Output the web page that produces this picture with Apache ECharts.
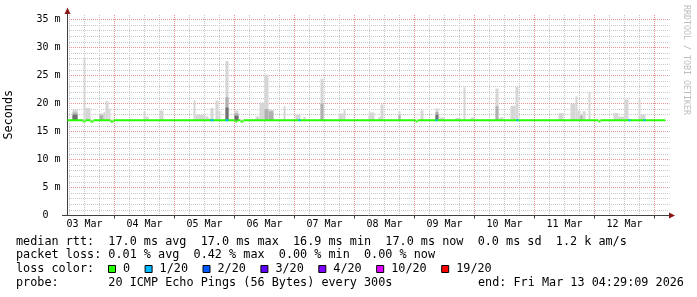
<!DOCTYPE html>
<html>
<head>
<meta charset="utf-8">
<script src="https://cdn.jsdelivr.net/npm/echarts/dist/echarts.min.js"></script>
<style>
html,body{margin:0;padding:0;background:#fff;}
#chart{width:697px;height:297px;}
</style>
</head>
<body>
<div id="chart"></div>
<script>
// ---------------- DATA (hours since 03 Mar 00:00) ----------------
const dayLabels = ['03 Mar','04 Mar','05 Mar','06 Mar','07 Mar','08 Mar','09 Mar','10 Mar','11 Mar','12 Mar'];
const dayLabelHours = [12,36,60,84,108,132,156,180,204,228];
const dayBoundaryHours = [24,48,72,96,120,144,168,192,216,240];
const yTickValues = [0,5,10,15,20,25,30,35];
const yTickLabels = ['0\u00a0\u00a0','5 m','10 m','15 m','20 m','25 m','30 m','35 m'];

const timeStart = 5.2;     // left edge of graph
const timeEnd = 246;       // right edge of graph
const rttStart = 5.2;      // first measurement
const rttEnd = 244.3;      // last measurement
const medianBase = 17.0;   // median rtt (ms)

// median dips (ms)
const dipFrom  = [11.6, 14.4, 22.4, 72.4, 74.4, 144.4, 217.6];
const dipTo    = [12.4, 15.6, 23.6, 73.2, 75.6, 145.2, 218.4];
const dipValue = [16.8, 16.8, 16.8, 16.8, 16.8, 16.8, 16.8];

// 1/20 packet loss intervals
const lossFrom = [62.4, 68.4, 97.6, 152.4, 184.8, 229.6, 235.6];
const lossTo   = [63.6, 69.6, 98.4, 153.2, 185.6, 230.4, 236.4];

// smoke (ping spread) per interval, ms
const smokeFloor = 16.9;
const smokeFrom = [7.2,11.6,12.4,18.0,19.6,20.4,21.6,35.6,36.4,42.0,55.6,56.4,60.4,61.6,62.4,64.4,65.6,68.4,72.0,80.4,82.0,84.0,85.6,91.6,96.4,99.6,106.4,113.6,115.6,125.6,129.6,130.4,137.6,146.4,152.4,153.6,154.4,160.4,163.6,166.4,176.4,178.0,182.4,184.4,201.6,206.4,208.4,209.2,210.4,211.2,213.6,223.6,225.6,228.0,233.6,234.4];
const smokeTo   = [9.2,12.4,14.4,19.6,20.4,21.6,22.4,36.4,37.6,43.6,56.4,60.4,61.6,62.4,63.6,65.6,66.4,69.6,73.6,82.0,84.0,85.6,87.6,92.4,98.4,100.4,107.6,115.6,116.4,128.0,130.4,131.6,138.4,147.6,153.6,154.4,156.0,162.4,164.4,168.0,177.6,179.6,184.4,185.6,203.6,208.4,209.2,210.4,211.2,212.4,214.4,225.6,228.0,229.6,234.4,236.4];
const smokeMax  = [18.9,28.2,19.2,18.2,18.5,20.4,19.1,18.6,17.7,18.75,20.6,18.0,17.7,17.3,19.2,20.5,18.6,27.6,18.75,17.7,20.2,25.2,18.9,19.5,18.0,17.6,24.4,18.2,18.9,18.4,17.6,19.8,18.6,18.75,19.1,17.7,17.5,17.4,22.9,17.5,22.7,17.5,19.6,23.0,18.3,20.0,21.3,18.75,17.9,18.6,22.1,18.3,17.7,20.7,20.7,18.0];
const smokeMid  = [18.4,null,null,17.9,null,null,null,null,null,null,null,null,null,null,null,null,null,21.1,18.2,null,null,19.0,18.6,null,null,null,20.0,null,null,null,null,null,18.0,null,18.5,null,null,null,null,null,19.5,null,null,null,null,null,null,null,17.9,null,null,null,null,null,null,null];
const smokeDark = [18.0,null,null,null,null,null,null,null,null,null,null,null,null,null,null,null,null,19.3,17.8,null,null,null,null,null,null,null,null,null,null,null,null,null,null,null,18.0,null,null,null,null,null,null,null,null,null,null,null,null,null,null,null,null,null,null,null,null,null];

const lossLabels = ['0','1/20','2/20','3/20','4/20','10/20','19/20'];
const lossColors = ['#26ff00','#00b8ff','#0059ff','#5e00ff','#7e00ff','#dd00ff','#ff0000'];

const legendLines = [
  'median rtt:  17.0 ms avg  17.0 ms max  16.9 ms min  17.0 ms now  0.0 ms sd  1.2 k am/s',
  'packet loss: 0.01 % avg  0.42 % max  0.00 % min  0.00 % now',
  'loss color:',
  'probe:       20 ICMP Echo Pings (56 Bytes) every 300s'
];
const endText = 'end: Fri Mar 13 04:29:09 2026';
const yTitle = 'Seconds';
const sideText = 'RRDTOOL / TOBI OETIKER';

// ---------------- BUILD ----------------
const MONO = '"DejaVu Sans Mono", monospace';
const GRID = {left:67.5, top:13.9, width:602, height:201.6, containLabel:false, outerBoundsMode:'none'};

const smokeData = smokeFrom.map((f,i)=>[f, smokeTo[i], smokeMax[i], smokeMid[i], smokeDark[i]]);

// median rtt segments [from, to, value]
const medianSegs = [];
let segStart = rttStart;
dipFrom.forEach((f,i)=>{
  medianSegs.push([segStart, f, medianBase]);
  medianSegs.push([f, dipTo[i], dipValue[i]]);
  segStart = dipTo[i];
});
medianSegs.push([segStart, rttEnd, medianBase]);
// loss segments [from, to, value]
const lossSegs = lossFrom.map((f,i)=>[f, lossTo[i], medianBase]);

// grid lines
const minorV = [], majorV = [];
for (let h = 6; h < timeEnd; h += 6) { (h % 24 === 0 ? majorV : minorV).push(h); }
const minorH = [], majorH = [];
for (let v = 1; v <= 35; v++) { (v % 5 === 0 ? majorH : minorH).push(v); }

const minorStyle = {color:'#c8c8c8', type:[1,1], dashOffset:0.5, width:1};
const majorStyle = {color:'#e98e8e', type:[1,1], dashOffset:0.5, width:1};
const gridLines = []
  .concat(minorV.map(h=>({xAxis:h, lineStyle:minorStyle})))
  .concat(minorH.map(v=>({yAxis:v, lineStyle:minorStyle})))
  .concat(majorV.map(h=>({xAxis:h, lineStyle:majorStyle})))
  .concat(majorH.map(v=>({yAxis:v, lineStyle:majorStyle})));

function renderSmoke(params, api) {
  const from = api.value(0), to = api.value(1);
  const x0 = api.coord([from, smokeFloor])[0];
  const x1 = api.coord([to, smokeFloor])[0];
  const yb = api.coord([from, smokeFloor])[1];
  const children = [];
  const layer = (top, color) => {
    if (top == null || isNaN(top)) return;
    const yt = api.coord([from, top])[1];
    children.push({type:'rect', shape:{x:x0, y:yt, width:x1-x0, height:yb-yt}, style:{fill:color}});
  };
  layer(api.value(2), '#d6d6d6');
  layer(api.value(3), '#b0b0b0');
  layer(api.value(4), '#707070');
  return {type:'group', children};
}
function segRenderer(color) {
  return function (params, api) {
    const p0 = api.coord([api.value(0), api.value(2)]);
    const p1 = api.coord([api.value(1), api.value(2)]);
    return {type:'rect', shape:{x:p0[0], y:p0[1] - 1, width:p1[0] - p0[0], height:2}, style:{fill:color}};
  };
}

// legend graphics
const graphics = [];
const lineY = [241.5, 255.2, 269.2, 282.8];
legendLines.forEach((t,i)=>{
  graphics.push({type:'text', x:16, y:lineY[i], silent:true,
    style:{text:t, font:'11.8px ' + MONO, fill:'#000', textVerticalAlign:'middle', verticalAlign:'middle'}});
});
graphics.push({type:'text', x:478, y:lineY[3], silent:true,
  style:{text:endText, font:'11.8px ' + MONO, fill:'#000', textVerticalAlign:'middle', verticalAlign:'middle'}});
let cx = 108.5;
const CH = 7.1;
lossLabels.forEach((lab,i)=>{
  graphics.push({type:'rect', silent:true, shape:{x:cx, y:265.5, width:7, height:7},
    style:{fill:lossColors[i], stroke:'#000', lineWidth:1}});
  const tx = cx + 14.5;
  graphics.push({type:'text', x:tx, y:lineY[2], silent:true,
    style:{text:lab, font:'11.8px ' + MONO, fill:'#000', textVerticalAlign:'middle', verticalAlign:'middle'}});
  cx = tx + lab.length*CH + 15;
});
// side text
graphics.push({type:'text', x:686, y:60, rotation:-Math.PI/2, silent:true,
  style:{text:sideText, font:'8.3px ' + MONO, fill:'#bdbdbd', textAlign:'center', align:'center', textVerticalAlign:'middle', verticalAlign:'middle'}});
// axis arrows and left stub
graphics.push({type:'polygon', silent:true, shape:{points:[[67.5,7.5],[64.5,14],[70.5,14]]}, style:{fill:'#8c1515'}});
graphics.push({type:'polygon', silent:true, shape:{points:[[675,215.5],[669,212.5],[669,218.5]]}, style:{fill:'#8c1515'}});
graphics.push({type:'line', silent:true, shape:{x1:62, y1:215.5, x2:67.5, y2:215.5}, style:{stroke:'#404040', lineWidth:1}});

const chart = echarts.init(document.getElementById('chart'), null, {renderer:'canvas'});
chart.setOption({
  animation:false,
  backgroundColor:'#fff',
  grid: GRID,
  xAxis: {
    type:'value', min:timeStart, max:timeEnd,
    axisLine:{show:true, lineStyle:{color:'#404040', width:1}},
    axisTick:{show:true, customValues:dayBoundaryHours, length:3, lineStyle:{color:'#404040'}},
    axisLabel:{show:true, customValues:dayLabelHours, margin:4, fontFamily:MONO, fontSize:10, color:'#000',
      formatter:(v)=>{ const i = dayLabelHours.indexOf(v); return i >= 0 ? dayLabels[i] : ''; }},
    splitLine:{show:false}
  },
  yAxis: {
    type:'value', min:0, max:36,
    name:yTitle, nameLocation:'middle', nameRotate:90, nameGap:53,
    nameTextStyle:{fontFamily:MONO, fontSize:11.8, color:'#000'},
    axisLine:{show:true, lineStyle:{color:'#404040', width:1}},
    axisTick:{show:false},
    axisLabel:{show:true, customValues:yTickValues, margin:7, fontFamily:MONO, fontSize:10, color:'#000',
      formatter:(v)=>{ const i = yTickValues.indexOf(v); return i >= 0 ? yTickLabels[i] : ''; }},
    splitLine:{show:false}
  },
  series: [
    {type:'line', data:[], z:0, silent:true,
      markLine:{silent:true, z:0, symbol:['none','none'], label:{show:false}, animation:false, data:gridLines}},
    {type:'custom', z:1, silent:true, renderItem:renderSmoke, data:smokeData,
      encode:{x:[0,1], y:2}, clip:true},
    {type:'custom', z:5, silent:true, renderItem:segRenderer(lossColors[0]), data:medianSegs,
      encode:{x:[0,1], y:2}, clip:true},
    {type:'custom', z:6, silent:true, renderItem:segRenderer(lossColors[1]), data:lossSegs,
      encode:{x:[0,1], y:2}, clip:true}
  ],
  graphic: graphics
});
</script>
</body>
</html>
